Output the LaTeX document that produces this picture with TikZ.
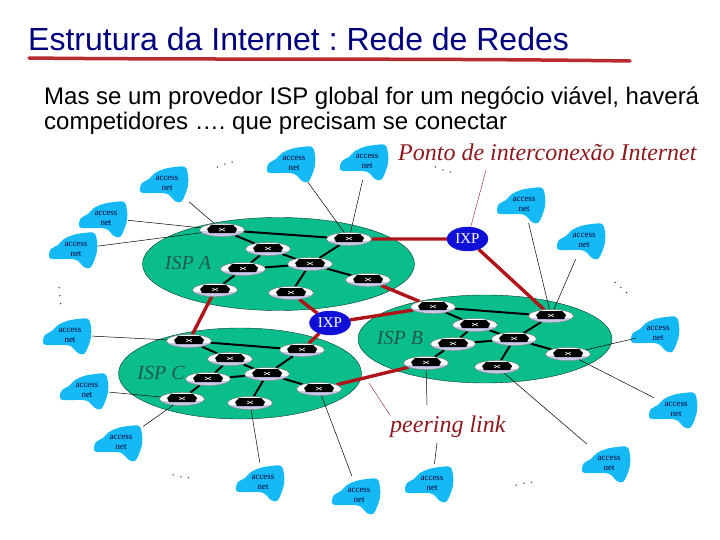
\documentclass[tikz,border=0pt]{standalone}
\usepackage{fontspec}
\setmainfont{Liberation Serif}
\newfontfamily\arialfont{Liberation Sans}
\usetikzlibrary{positioning, shapes.geometric}
\pgfdeclarelayer{isplayer}
\pgfdeclarelayer{linklayer}
\pgfsetlayers{isplayer,linklayer,main}
\frenchspacing
\definecolor{ispgreen}{RGB}{10,190,140}
\definecolor{netblue}{RGB}{20,185,245}
\definecolor{linkred}{RGB}{175,20,25}
\definecolor{labelred}{RGB}{140,25,30}
\definecolor{ispgray}{RGB}{35,90,75}
\definecolor{ixpblue}{RGB}{15,15,215}
\definecolor{routerblue}{RGB}{200,200,235}
\definecolor{titlenavy}{RGB}{0,0,125}
\tikzset{
  isp/.style={ellipse, draw=black!70!ispgreen, fill=ispgreen, inner sep=0pt},
  isplabel/.style={font=\itshape\fontsize{20}{20}\selectfont, text=ispgray},
  router/.style={ellipse, draw=black!55, fill=white, minimum width=45pt, minimum height=13pt, inner sep=0pt,
    path picture={
      \fill[routerblue] ([yshift=-1.5pt]path picture bounding box.west) rectangle (path picture bounding box.south east);
      \fill[black] ([shift={(-13pt,-3pt)}]path picture bounding box.center) -- ++(26pt,0pt) -- ++(2pt,4pt) -- ++(-4pt,4pt) -- ++(-22pt,0pt) -- ++(-4pt,-4pt) -- cycle;
      \draw[white, line width=0.6pt] ([shift={(-3pt,2pt)}]path picture bounding box.center) -- ++(6pt,-3pt) ++(-6pt,0pt) -- ++(6pt,3pt);
    }},
  corelink/.style={line width=2pt, black},
  peerlink/.style={line width=3.4pt, linkred},
  accesslink/.style={line width=0.5pt, black},
  notelink/.style={line width=0.4pt, labelred},
  accessnet/.style={align=center, minimum width=44pt, minimum height=38pt, inner sep=0pt,
    font=\fontsize{9}{10}\selectfont, text=black!80!blue},
  ixp/.style={ellipse, fill=ixpblue, draw=ixpblue, minimum width=41pt, minimum height=24pt, inner sep=0pt,
    text=white, font=\fontsize{15}{15}\selectfont},
  note/.style={font=\itshape\fontsize{24}{24}\selectfont, text=labelred, inner sep=0pt},
  dots/.style={font=\fontsize{11}{11}\selectfont, text=titlenavy, inner sep=0pt},
}
\begin{document}
\begin{tikzpicture}[x=1pt, y=-1pt]
\useasboundingbox (0,0) rectangle (720,540);

\node[anchor=base west, inner sep=0pt, font=\arialfont\fontsize{32}{32}\selectfont, text=titlenavy] (title) at (28,51) {Estrutura da Internet : Rede de Redes};
\draw[line width=3.5pt, line cap=round, linkred!90!white] (29,58) .. controls (200,60) and (420,58) .. (630,61);
\node[anchor=base west, inner sep=0pt, font=\arialfont\fontsize{24}{25}\selectfont, align=left] (body) at (44,130) {Mas se um provedor ISP global for um negócio viável, haverá\\competidores …. que precisam se conectar};

\node[router] (a1) at (222,230) {};
\node[router] (a2) at (268,249) {};
\node[router] (a3) at (310,264) {};
\node[router] (a4) at (243,269) {};
\node[router] (a5) at (215,290) {};
\node[router] (a6) at (291,293) {};
\node[router] (a7) at (349,239) {};
\node[router] (a8) at (368,280) {};

\node[router] (b1) at (433,307) {};
\node[router] (b2) at (475,325) {};
\node[router] (b3) at (514,339) {};
\node[router] (b4) at (453,344) {};
\node[router] (b5) at (426,363) {};
\node[router] (b6) at (497,367) {};
\node[router] (b7) at (551,316) {};
\node[router] (b8) at (568,354) {};

\node[router] (c1) at (189,341) {};
\node[router] (c2) at (230,359) {};
\node[router] (c3) at (267,374) {};
\node[router] (c4) at (208,379) {};
\node[router] (c5) at (182,399) {};
\node[router] (c6) at (250,403) {};
\node[router] (c7) at (302,350) {};
\node[router] (c8) at (319,389) {};

\node[ixp] (ixpTop) at (467.5,239) {IXP};
\node[ixp] (ixpLow) at (330,323) {IXP};

\begin{pgfonlayer}{isplayer}
\node[isp, minimum width=272pt, minimum height=93pt] (ispA) at (278.5,264) {};
\node[isp, minimum width=254pt, minimum height=88pt] (ispB) at (485,339) {};
\node[isp, minimum width=243pt, minimum height=91pt] (ispC) at (240,373.5) {};
\end{pgfonlayer}

\node[isplabel] (labelA) at (188,263) {ISP A};
\node[isplabel] (labelB) at (400,338) {ISP B};
\node[isplabel] (labelC) at (161,373) {ISP\hspace{5pt}C};

\begin{pgfonlayer}{linklayer}
\foreach \p in {a,b,c} {
  \draw[corelink] (\p1)--(\p7)--(\p3)--(\p2)--(\p1);
  \draw[corelink] (\p2)--(\p4)--(\p5);
  \draw[corelink] (\p4)--(\p3)--(\p6);
  \draw[corelink] (\p3)--(\p8);
}
\draw[peerlink] (a5)--(c1);
\draw[peerlink] (a6)--(ixpLow)--(c7);
\draw[peerlink] (ixpLow)--(b1)--(a8);
\draw[peerlink] (c8)--(b5);
\draw[peerlink] (a7)--(ixpTop)--(b7);
\end{pgfonlayer}

\foreach \n/\x/\y in {n1/167/183, n2/106/218, n3/76/249, n4/294/163, n5/367/161, n6/524/204, n7/584/240, n8/70/335,
  n9/87/390, n10/121/442, n11/263/482, n12/359/495, n13/432/483, n14/609/463, n15/676/409, n16/658/333} {
  \fill[netblue, shift={(\x,\y)}] plot[smooth cycle, tension=0.6] coordinates
    {(-27,6) (-25,0) (-18,-4) (-12,-10) (-3,-14) (8,-16) (18,-16) (21,-8) (21,2) (18,12) (14,19) (8,18) (2,12) (-5,10) (-24,10)};
  \node[accessnet] (\n) at (\x,\y) {access\\net};
}

\draw[accesslink] (n1)--(a1);
\draw[accesslink] (n2)--(a1);
\draw[accesslink] (n3)--(a1);
\draw[accesslink] (n4)--(a7);
\draw[accesslink] (n5)--(a7);
\draw[accesslink] (n6)--(b7);
\draw[accesslink] (n7)--(b7);
\draw[accesslink] (n8)--(c1);
\draw[accesslink] (n9)--(c5);
\draw[accesslink] (n10)--(c5);
\draw[accesslink] (n11)--(c6);
\draw[accesslink] (n12)--(c8);
\coordinate (gapTop) at (427,405);
\coordinate (gapLow) at (437,443);
\draw[accesslink] (b5)--(gapTop);
\draw[accesslink] (gapLow)--(n13);
\draw[accesslink] (n14)--(b6);
\draw[accesslink] (n15)--(b8);
\draw[accesslink] (n16)--(b8);

\node[note, anchor=base west] (ponto) at (398,161) {Ponto de interconexão Internet};
\node[note, anchor=base west] (peering) at (390,432) {peering link};
\coordinate (pontoEnd) at (486,170);
\coordinate (peeringEnd) at (369,383);
\draw[notelink] (ixpTop)--(pontoEnd);
\draw[notelink] (peeringEnd)--(peering.north west);

\node[dots, rotate=18] (dotsA) at (225,165) {.\hspace{5pt}.\hspace{5pt}.};
\node[dots, rotate=95] (dotsB) at (60,296) {.\hspace{5pt}.\hspace{5pt}.};
\node[dots, rotate=-16] (dotsC) at (443,170) {.\hspace{5pt}.\hspace{5pt}.};
\node[dots, rotate=-42] (dotsD) at (621,288) {.\hspace{5pt}.\hspace{5pt}.};
\node[dots, rotate=-12] (dotsE) at (181,477) {.\hspace{5pt}.\hspace{5pt}.};
\node[dots, rotate=13] (dotsF) at (524,484) {.\hspace{5pt}.\hspace{5pt}.};

\end{tikzpicture}
\end{document}
